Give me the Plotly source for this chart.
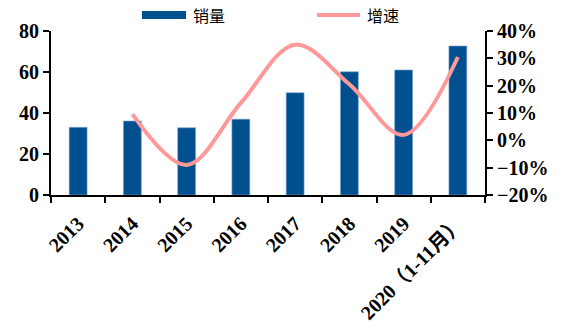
import plotly.graph_objects as go

categories = ["2013", "2014", "2015", "2016", "2017", "2018", "2019", "2020（1-11月）"]
sales = [33.0, 36.1, 32.8, 37.0, 49.9, 60.1, 61.0, 72.7]
growth_cats = categories[1:]
growth = [9.6, -9.0, 13.7, 35.0, 20.5, 2.0, 30.5]

bar_color = "#00508F"
line_color = "#FF9999"

fig = go.Figure()
fig.add_trace(go.Bar(x=categories, y=sales, name="销量", marker=dict(color=bar_color, line=dict(color="#7FA6D1", width=0.6)),
                     width=0.33, showlegend=False))
fig.add_trace(go.Scatter(x=growth_cats, y=growth, name="增速", yaxis="y2", mode="lines",
                         line=dict(color=line_color, width=4, shape="spline", smoothing=1.0), showlegend=False))

fig.update_layout(
    width=561, height=328,
    margin=dict(l=51, r=76, t=31, b=133),
    paper_bgcolor="white", plot_bgcolor="white",
    xaxis=dict(type="category", showline=True, linecolor="black", linewidth=2, ticks="outside", tickson="boundaries",
               ticklen=6, tickwidth=2, tickcolor="black", tickangle=-45, ticklabelstandoff=7, automargin=False,
               tickfont=dict(family="Liberation Serif, Noto Sans CJK SC", size=20, color="black", weight="bold"),
               showgrid=False),
    yaxis=dict(range=[0, 80], dtick=20, showline=True, linecolor="black", linewidth=2, ticks="outside", ticklen=6,
               tickwidth=2, tickcolor="black", showgrid=False, zeroline=False, automargin=False,
               tickfont=dict(family="Liberation Serif", size=20, color="black", weight="bold")),
    yaxis2=dict(range=[-20, 40], dtick=10, overlaying="y", side="right", ticksuffix="%", showline=True,
                linecolor="black", linewidth=2, ticks="outside", ticklen=6, tickwidth=2, tickcolor="black",
                showgrid=False, zeroline=False, automargin=False,
                tickfont=dict(family="Liberation Serif", size=20, color="black", weight="bold")),
    bargap=0.67,
)

# custom legend
def px(x):
    return (x - 51) / 434

def py(y):
    return (195 - y) / 164

fig.add_shape(type="rect", xref="paper", yref="paper", x0=px(142), x1=px(186), y0=py(19), y1=py(11),
              fillcolor=bar_color, line=dict(width=0))
fig.add_shape(type="line", xref="paper", yref="paper", x0=px(317), x1=px(360), y0=py(15), y1=py(15),
              line=dict(color=line_color, width=4))
fig.add_annotation(text="销量", xref="paper", yref="paper", x=px(191), y=py(15), xanchor="left", yanchor="middle",
                   showarrow=False, font=dict(family="Noto Sans CJK SC", size=16, color="black"))
fig.add_annotation(text="增速", xref="paper", yref="paper", x=px(365), y=py(15), xanchor="left", yanchor="middle",
                   showarrow=False, font=dict(family="Noto Sans CJK SC", size=16, color="black"))

fig.write_html("out.html")
